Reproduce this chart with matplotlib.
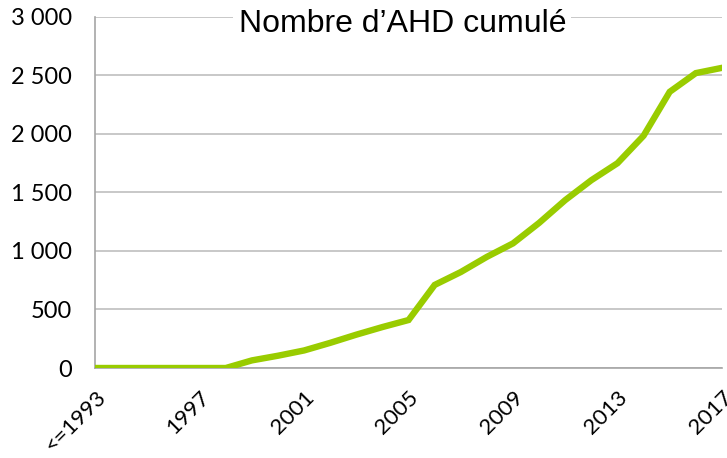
import matplotlib.pyplot as plt
from matplotlib.ticker import FuncFormatter

# cumulative count per year
years = ['<=1993', '1994', '1995', '1996', '1997', '1998', '1999', '2000',
         '2001', '2002', '2003', '2004', '2005', '2006', '2007', '2008',
         '2009', '2010', '2011', '2012', '2013', '2014', '2015', '2016', '2017']
cumul = [0, 0, 0, 0, 0, 0, 65, 105, 150, 215, 285, 350, 410, 710, 820, 950,
         1065, 1240, 1435, 1605, 1750, 1985, 2360, 2520, 2565]

fig = plt.figure(figsize=(7.27, 4.58), dpi=100)
ax = fig.add_axes([0.131, 0.1965, 0.862, 0.7665])

x = list(range(len(years)))
ax.plot(x, cumul, color='#99CC00', lw=4.6, solid_joinstyle='miter', zorder=3)

ax.set_xlim(0, len(years) - 1)
ax.set_ylim(0, 3000)
ax.set_yticks(range(0, 3001, 500))
ax.yaxis.set_major_formatter(FuncFormatter(lambda v, p: '{:,}'.format(int(v)).replace(',', ' ')))

ticks = x[::4]
ax.set_xticks(ticks)
ax.set_xticklabels([years[i] for i in ticks], rotation=45, ha='right',
                   rotation_mode='anchor', fontsize=16, family='Lato')
for lab in ax.get_yticklabels():
    lab.set_fontsize(17)
    lab.set_family('Lato')
ax.tick_params(length=0)
ax.tick_params(axis='y', pad=17)
ax.tick_params(axis='x', pad=14)

ax.grid(axis='y', color='#BFBFBF', lw=1.2)
ax.set_axisbelow(True)
for s in ['top', 'right']:
    ax.spines[s].set_visible(False)
ax.spines['left'].set_color('#A6A6A6')
ax.spines['bottom'].set_color('#A6A6A6')
ax.spines['left'].set_linewidth(1.2)
ax.spines['bottom'].set_linewidth(1.2)

ax.text(0.49, 0.98, "Nombre d\u2019AHD cumulé", transform=ax.transAxes,
        ha='center', va='center', fontsize=23, family='Liberation Sans',
        bbox=dict(facecolor='white', edgecolor='none', pad=4), zorder=5)

fig.savefig('out.png', dpi=100)
